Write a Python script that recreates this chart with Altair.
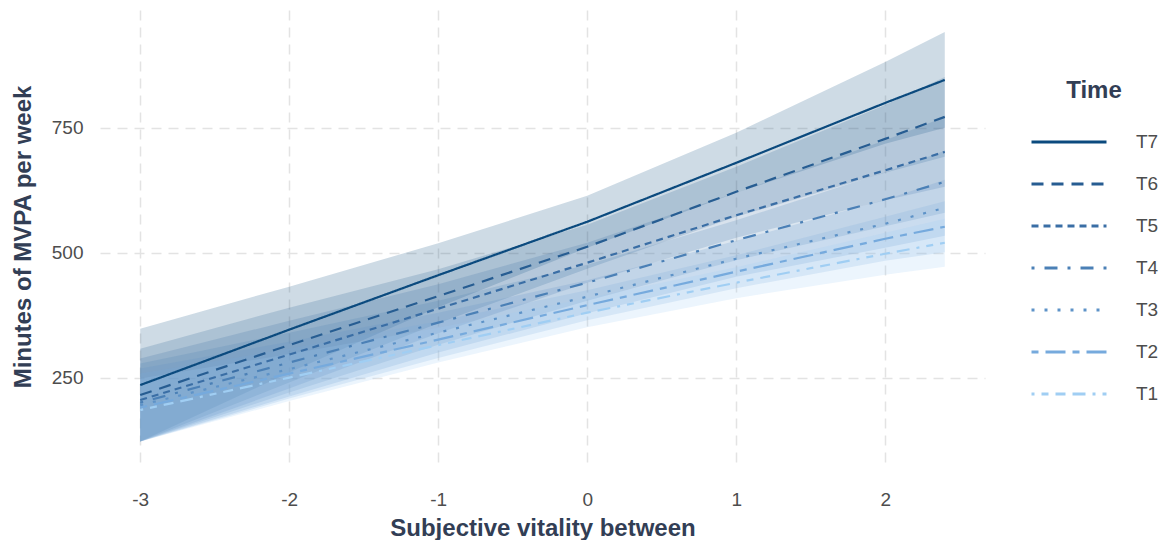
import altair as alt
import pandas as pd

# ---- data ----
x_vals = [-3, -2, -1, 0, 1, 2, 2.4]
times = ["T7", "T6", "T5", "T4", "T3", "T2", "T1"]

center = {
    "T7": [235, 346, 455, 562, 680, 800, 846],
    "T6": [215, 315, 413, 512, 622, 728, 772],
    "T5": [205, 296, 388, 480, 575, 665, 702],
    "T4": [200, 280, 360, 440, 525, 607, 642],
    "T3": [195, 267, 340, 412, 488, 558, 590],
    "T2": [190, 258, 326, 395, 462, 528, 552],
    "T1": [185, 250, 315, 380, 440, 498, 520],
}
halfwidth = {
    "T7": [113, 86, 64, 52, 60, 82, 96],
    "T6": [93, 75, 54, 44, 50, 68, 80],
    "T5": [83, 68, 49, 40, 45, 60, 70],
    "T4": [78, 60, 44, 36, 40, 54, 62],
    "T3": [73, 55, 40, 33, 36, 48, 56],
    "T2": [68, 50, 37, 30, 33, 44, 51],
    "T1": [63, 47, 35, 29, 31, 42, 48],
}

colors = ["#0B4A7E", "#275D92", "#3A6EA5", "#4B80B6", "#5E93C8", "#76AADD", "#A0CEF3"]
dashes = [[1, 0], [12, 8], [7, 5], [3, 10, 13, 10], [3, 10], [7, 7, 20, 7],
          [3, 7, 7, 7, 10, 7, 13, 7]]

y_ticks = [250, 500, 750]
x_ticks = [-3, -2, -1, 0, 1, 2]

rows = []
for t in times:
    for xv, c, h in zip(x_vals, center[t], halfwidth[t]):
        rows.append({"x": xv, "Time": t, "fit": c, "lo": c - h, "hi": c + h})
df = pd.DataFrame(rows)

font = "Liberation Sans"
title_col = "#323E55"
label_col = "#4D4D4D"
x_title = "Subjective vitality between"
y_title = "Minutes of MVPA per week"

xscale = alt.Scale(domain=[-3.27, 2.67], nice=False, zero=False)
yscale = alt.Scale(domain=[79, 986], nice=False, zero=False)
cscale = alt.Scale(domain=times, range=colors)

xaxis = alt.Axis(values=x_ticks, title=x_title, labelExpr="toString(datum.value)")
yaxis = alt.Axis(values=y_ticks, title=y_title, titleLimit=1000)

base = alt.Chart(df)

bands = base.mark_area(fillOpacity=0.2).encode(
    x=alt.X("x:Q", scale=xscale, axis=xaxis),
    y=alt.Y("lo:Q", scale=yscale, axis=yaxis),
    y2="hi:Q",
    color=alt.Color("Time:N", scale=cscale, legend=alt.Legend(title="Time")),
    detail="Time:N",
)

lines = base.mark_line(strokeWidth=2.2).encode(
    x=alt.X("x:Q", scale=xscale, axis=xaxis),
    y=alt.Y("fit:Q", scale=yscale, axis=yaxis),
    color=alt.Color("Time:N", scale=cscale, legend=alt.Legend(title="Time")),
    strokeDash=alt.StrokeDash("Time:N", scale=alt.Scale(domain=times, range=dashes),
                              legend=alt.Legend(title="Time")),
)

chart = alt.layer(bands, lines).properties(
    width=885, height=453,
    autosize=alt.AutoSizeParams(type="none"),
    padding={"left": 92, "top": 2, "right": 176, "bottom": 77},
).configure_view(stroke=None).configure_axis(
    labelFont=font, titleFont=font, labelFontSize=19, labelColor=label_col,
    titleFontSize=24, titleFontWeight="bold", titleColor=title_col,
    domain=False, ticks=False, gridDash=[10, 7], gridColor="#E3E3E3", gridWidth=1.5,
).configure_axisX(
    labelPadding=27, titlePadding=7,
).configure_axisY(
    labelPadding=17, titlePadding=16,
).configure_legend(
    orient="none", legendX=930, legendY=69,
    titleFont=font, titleFontSize=24, titleFontWeight="bold", titleColor=title_col,
    titleAnchor="middle", titlePadding=29,
    labelFont=font, labelFontSize=19, labelColor=label_col, labelOffset=28,
    symbolType="stroke", symbolSize=5625, symbolStrokeWidth=3, symbolOpacity=1,
    clipHeight=20, rowPadding=22,
)

chart.save("out.html", embed_options={"renderer": "svg", "actions": False})
